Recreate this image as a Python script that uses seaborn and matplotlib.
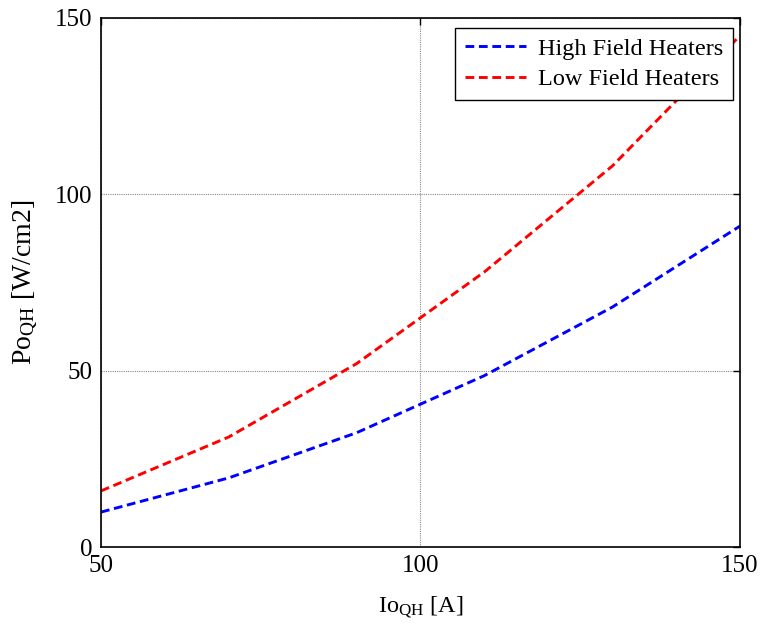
import matplotlib
matplotlib.use("Agg")
import matplotlib.pyplot as plt
import seaborn as sns
import pandas as pd

current = [50, 70, 90, 110, 130, 150]
high_field = [9.9, 19.6, 32.4, 48.6, 68.0, 91.0]
low_field = [15.9, 31.2, 52.0, 78.0, 108.0, 145.0]
series_names = ["High Field Heaters", "Low Field Heaters"]

df = pd.DataFrame({
    "I": current * 2,
    "P": high_field + low_field,
    "series": [series_names[0]] * len(current) + [series_names[1]] * len(current),
})

sns.set_theme(style="white")
plt.rcParams['font.family'] = ['Liberation Serif', 'DejaVu Serif']
plt.rcParams['mathtext.fontset'] = 'custom'
plt.rcParams['mathtext.rm'] = 'Liberation Serif'
plt.rcParams['text.color'] = 'black'
plt.rcParams['axes.labelcolor'] = 'black'
plt.rcParams['xtick.color'] = 'black'
plt.rcParams['ytick.color'] = 'black'

W, H = 762, 623
fig = plt.figure(figsize=(W / 100, H / 100), dpi=100)
ax = fig.add_axes([101 / W, 1 - 547 / H, (740 - 101) / W, (547 - 18) / H])

DASH = [3.0, 1.6]
sns.lineplot(data=df, x="I", y="P", hue="series", palette=["#0000ff", "#ff0000"],
             ax=ax, linewidth=2.1, legend=True)
for line in ax.get_lines():
    line.set_dashes(DASH)

ax.set_xlim(50, 150)
ax.set_ylim(0, 150)
ax.set_xticks([50, 100, 150])
ax.set_yticks([0, 50, 100, 150])
ax.tick_params(direction="in", length=5, width=1, top=True, right=True,
               labelsize=18, colors="black", pad=6)
for s in ax.spines.values():
    s.set_visible(True)
    s.set_color("black")
    s.set_linewidth(1.2)
ax.grid(True, color="#888888", linestyle=(0, (1, 1)), linewidth=0.8)

ax.set_xlabel(r"$\mathregular{Io_{QH}}$ [A]", fontsize=17.5, labelpad=12, color="black")
ax.set_ylabel(r"$\mathregular{Po_{QH}}$ [W/cm2]", fontsize=20, labelpad=10, color="black")

leg = ax.legend(loc="upper right", bbox_to_anchor=(733 / W, 1 - 28 / H),
                bbox_transform=fig.transFigure, fontsize=17.5, frameon=True,
                fancybox=False, edgecolor="black", handlelength=2.5,
                borderaxespad=0, borderpad=0.4, labelspacing=0.35,
                handletextpad=0.5)
leg.get_frame().set_linewidth(1.0)
leg.get_frame().set_alpha(1)
for t in leg.get_texts():
    t.set_color("black")
for h in leg.get_lines():
    h.set_dashes(DASH)
    h.set_linewidth(2.1)

fig.savefig("out.png", dpi=100)
